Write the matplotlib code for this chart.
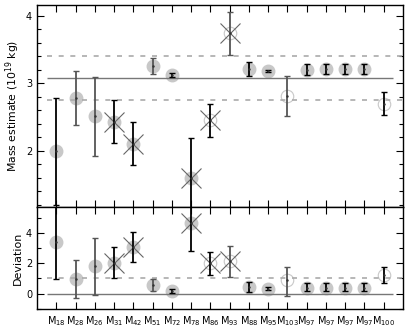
import numpy as np
import matplotlib.pyplot as plt

# asteroid labels (subscripts) and estimates
names = ['18', '28', '26', '31', '42', '51', '72', '78', '86',
         '93', '88', '95', '103', '97', '97', '97', '97', '100']
mass = [2.00, 2.78, 2.51, 2.43, 2.10, 3.25, 3.12, 1.60, 2.45,
        3.74, 3.21, 3.18, 2.81, 3.20, 3.21, 3.21, 3.21, 2.70]
mass_hi = [2.78, 3.18, 3.10, 2.75, 2.42, 3.37, 3.15, 2.19, 2.69,
           4.06, 3.31, 3.20, 3.11, 3.28, 3.29, 3.29, 3.29, 2.87]
mass_lo = [1.20, 2.39, 1.92, 2.11, 1.79, 3.14, 3.09, 1.00, 2.21,
           3.42, 3.11, 3.16, 2.52, 3.13, 3.14, 3.14, 3.14, 2.53]
dev = [3.41, 0.94, 1.81, 2.03, 3.06, 0.57, 0.17, 4.65, 2.03,
       2.14, 0.46, 0.33, 0.89, 0.39, 0.39, 0.39, 0.39, 1.20]
dev_hi = [6.50, 2.18, 3.67, 3.04, 4.02, 0.98, 0.29, 6.50, 2.73,
          3.12, 0.79, 0.41, 1.75, 0.72, 0.72, 0.72, 0.72, 1.75]
dev_lo = [0.94, -0.31, -0.09, 1.02, 2.07, 0.20, 0.05, 2.80, 1.20,
          1.09, 0.13, 0.25, -0.13, 0.15, 0.15, 0.15, 0.15, 0.68]
# f = filled gray circle, o = open circle
circ = ['f', 'f', 'f', 'f', 'f', 'f', 'f', 'f', 'o',
        'o', 'f', 'f', 'o', 'f', 'f', 'f', 'f', 'o']
cross = [0, 0, 0, 1, 1, 0, 0, 1, 1, 1, 0, 0, 0, 0, 0, 0, 0, 0]
errgray = [0, 1, 1, 0, 0, 1, 0, 0, 0, 1, 0, 0, 1, 0, 0, 0, 0, 0]

mean_mass = 3.08
band = [2.76, 3.40]

plt.rcParams['font.family'] = 'DejaVu Sans'
plt.rcParams['font.size'] = 7

fig = plt.figure(figsize=(4.07, 3.3), dpi=100)
ax1 = fig.add_axes([0.091, 0.373, 0.899, 0.612])
ax2 = fig.add_axes([0.091, 0.064, 0.899, 0.309])

x = np.arange(1, len(names) + 1)


def draw(ax, y, hi, lo):
    for i in range(len(x)):
        if circ[i] == 'f':
            ax.plot(x[i], y[i], 'o', ms=9, mfc='#c8c8c8', mec='#c8c8c8', zorder=2)
        else:
            ax.plot(x[i], y[i], 'o', ms=9, mfc='none', mec='#c8c8c8', mew=0.8, zorder=2)
        if cross[i]:
            ax.plot(x[i], y[i], 'x', ms=15, mec='#666666', mew=0.8, zorder=3)
        c = '#555555' if errgray[i] else 'black'
        ax.errorbar(x[i], y[i], yerr=[[y[i] - lo[i]], [hi[i] - y[i]]], fmt='none',
                    ecolor=c, elinewidth=1.3, capsize=2.2, capthick=1.0, zorder=4)
        ax.plot(x[i], y[i], '.', ms=1.5, color='#333333', zorder=5)


draw(ax1, mass, mass_hi, mass_lo)
ax1.hlines(mean_mass, 0.5, 18.5, color='#777777', lw=1)
for b in band:
    ax1.hlines(b, 0.5, 19, color='#aaaaaa', lw=1.2, linestyles=(0, (3, 4)))
ax1.set_xlim(0, 19)
ax1.set_ylim(1.17, 4.16)
ax1.set_yticks([2, 3, 4])
ax1.set_yticks(np.arange(1.2, 4.1, 0.2), minor=True)
ax1.set_xticks(x)
ax1.set_xticklabels([])
ax1.tick_params(direction='in', top=True, right=True, length=5, width=0.8)
ax1.tick_params(which='minor', direction='in', right=True, length=3, width=0.8)
ax1.set_ylabel('Mass estimate (10$^{19}$ kg)', fontsize=7.8)
ax1.yaxis.set_label_coords(-0.04, 0.5)

draw(ax2, dev, dev_hi, dev_lo)
ax2.hlines(0, 0.5, 18.5, color='#777777', lw=1)
ax2.hlines(1, 0.5, 19, color='#aaaaaa', lw=1.2, linestyles=(0, (3, 4)))
ax2.set_xlim(0, 19)
ax2.set_ylim(-1, 5.7)
ax2.set_yticks([0, 2, 4])
ax2.set_yticks(np.arange(-1, 6, 1), minor=True)
ax2.set_xticks(x)
ax2.set_xticklabels(['M$_{%s}$' % n for n in names])
ax2.tick_params(direction='in', top=True, right=True, length=5, width=0.8)
ax2.tick_params(axis='x', pad=4)
ax2.tick_params(which='minor', direction='in', right=True, length=3, width=0.8)
ax2.set_ylabel('Deviation', fontsize=8)
ax2.yaxis.set_label_coords(-0.04, 0.5)

for ax in (ax1, ax2):
    for s in ax.spines.values():
        s.set_linewidth(1.0)

fig.savefig('out.png', dpi=100)
